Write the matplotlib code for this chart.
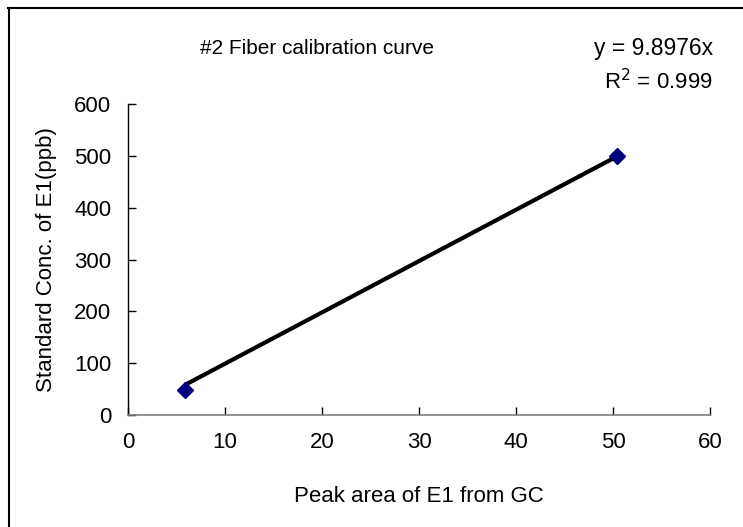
import matplotlib
matplotlib.use("Agg")
import matplotlib.pyplot as plt
from matplotlib.lines import Line2D
import numpy as np

# Data
peak_area = [5.9, 50.4]
std_conc = [48, 500]
slope = 9.8976
r2 = 0.999
x_ticks = [0, 10, 20, 30, 40, 50, 60]
y_ticks = [0, 100, 200, 300, 400, 500, 600]

W, H = 743, 527
fig = plt.figure(figsize=(W / 100, H / 100), dpi=100)
ax = fig.add_axes([128 / W, (H - 415) / H, (710 - 128) / W, (415 - 104) / H])

reg = ['Liberation Sans', 'DejaVu Sans']

xs = np.array([min(peak_area), max(peak_area)])
ax.plot(xs, slope * xs, color='black', lw=3, solid_capstyle='butt', zorder=2)
ax.plot(peak_area, std_conc, linestyle='none', marker='D', color='#000080',
        markersize=8, zorder=3)

ax.set_xlim(0, 60)
ax.set_ylim(0, 600)
ax.set_xticks(x_ticks)
ax.set_yticks(y_ticks)
ax.set_xticklabels([str(t) for t in x_ticks], family=reg, fontsize=16)
ax.set_yticklabels([str(t) for t in y_ticks], family=reg, fontsize=16)
ax.tick_params(axis='both', direction='in', length=6, width=1, color='black')
ax.tick_params(axis='x', pad=12)
ax.tick_params(axis='y', pad=12)
for s in ['top', 'right']:
    ax.spines[s].set_visible(False)
ax.spines['bottom'].set_color('#808080')
ax.spines['bottom'].set_linewidth(1.2)
ax.spines['left'].set_color('black')
ax.spines['left'].set_linewidth(1)

ax.set_ylabel('Standard Conc. of E1(ppb)', family=reg, fontsize=16, labelpad=12)
ax.set_xlabel('Peak area of E1 from GC', family=reg, fontsize=16, labelpad=24)

fig.text(200 / W, 1 - 48 / H, '#2 Fiber calibration curve', family=reg,
         fontsize=15, ha='left', va='center')
fig.text(713 / W, 1 - 48 / H, 'y = 9.8976x', family=reg,
         fontsize=16.5, ha='right', va='center')
fig.text(713 / W, 1 - 82 / H, r'R$^2$ = 0.999', family=reg,
         fontsize=16, ha='right', va='center')

# outer frame (top and left edges visible)
fig.add_artist(Line2D([8 / W, 1.0], [1 - 7.5 / H, 1 - 7.5 / H],
                      transform=fig.transFigure, color='black', lw=1.5))
fig.add_artist(Line2D([8.5 / W, 8.5 / W], [0, 1 - 7.5 / H],
                      transform=fig.transFigure, color='black', lw=1.5))

fig.savefig('out.png', dpi=100)
